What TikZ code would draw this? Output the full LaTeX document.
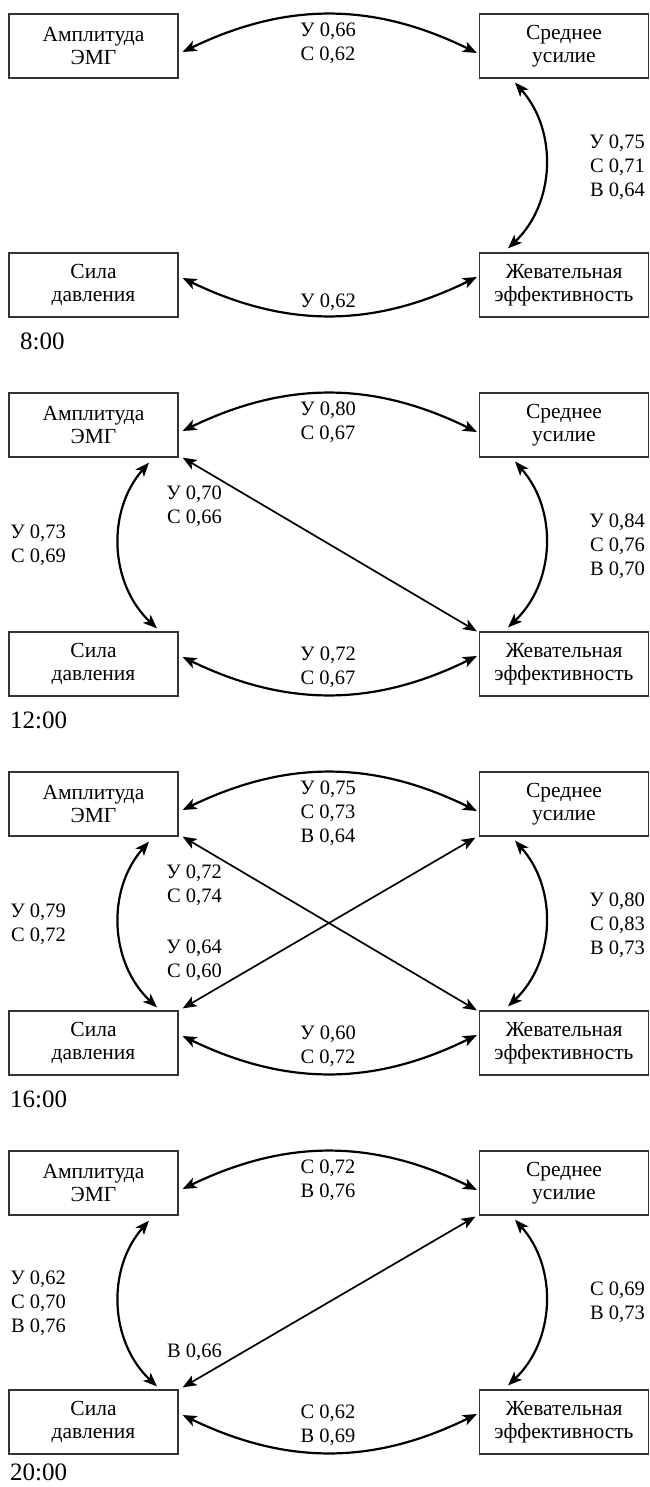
\documentclass[tikz,border=0pt]{standalone}
\usepackage{fontspec}
\setmainfont{Liberation Serif}
\usepackage{tikz}
\usetikzlibrary{positioning, arrows.meta}
\definecolor{boxgray}{HTML}{333333}

\tikzset{
    box/.style={draw=boxgray, line width=1.2pt, minimum width=169pt, minimum height=64pt,
                inner sep=0pt, align=center, font=\fontsize{21.5}{23.5}\selectfont},
    link/.style={line width=2.2pt,
                 {Stealth[length=14pt,width=11pt,inset=3.5pt]}-{Stealth[length=14pt,width=11pt,inset=3.5pt]}},
    diag/.style={link, line width=1.7pt},
    lbl/.style={inner sep=0pt, font=\fontsize{20.5}{24}\selectfont},
    timelbl/.style={inner sep=0pt, anchor=west, font=\fontsize{25}{28}\selectfont}
}

\begin{document}
\begin{tikzpicture}[x=1pt, y=-1pt]
    \useasboundingbox (0,0) rectangle (649,1487);

    % four panels of boxes
    \foreach \i/\tx/\ty/\t in {0/20/327/8:00, 1/10/327/12:00, 2/10/327/16:00, 3/10/321/20:00}{
      \pgfmathsetmacro{\P}{14+379*\i}
      \node[box] (amp\i)  at (93.5, {\P+32})  {Амплитуда\\ЭМГ};
      \node[box] (sred\i) at (564,  {\P+32})  {Среднее\\усилие};
      \node[box] (sila\i) at (93.5, {\P+271}) {Сила\\давления};
      \node[box] (zhev\i) at (564,  {\P+271}) {Жевательная\\эффективность};
      \node[timelbl] (time\i) at (\tx, {\P+\ty}) {\t};
    }

    % 8:00
    \draw[link] ([xshift=4pt,yshift=-6pt]amp0.east) to[bend left=26] ([xshift=-2pt,yshift=-7pt]sred0.west);
    \draw[link] ([xshift=-49pt,yshift=-4pt]sred0.south) to[bend left=44] ([xshift=-56pt,yshift=4pt]zhev0.north);
    \draw[link] ([xshift=4pt,yshift=7pt]sila0.east) to[bend right=26] ([xshift=-2pt,yshift=8pt]zhev0.west);
    \begin{scope}
      \node[lbl, align=center] (t0) at (328, 43) {У 0,66\\С 0,62};
      \node[lbl, align=right, anchor=east] (r0) at (645, 167) {У 0,75\\С 0,71\\В 0,64};
      \node[lbl, align=center] (b0) at (328, 302) {У 0,62};
    \end{scope}

    % 12:00
    \draw[link] ([xshift=4pt,yshift=-6pt]amp1.east) to[bend left=26] ([xshift=-2pt,yshift=-7pt]sred1.west);
    \draw[link] ([xshift=-49pt,yshift=-4pt]sred1.south) to[bend left=44] ([xshift=-56pt,yshift=4pt]zhev1.north);
    \draw[link] ([xshift=4pt,yshift=7pt]sila1.east) to[bend right=26] ([xshift=-2pt,yshift=8pt]zhev1.west);
    \draw[link] ([xshift=55.5pt,yshift=-5pt]amp1.south) to[bend right=44] ([xshift=63.5pt,yshift=3pt]sila1.north);
    \draw[diag] ([xshift=4pt]amp1.south east) -- ([xshift=-2pt]zhev1.north west);
    \begin{scope}[shift={(0,379)}]
      \node[lbl, align=center] (t1) at (328, 43) {У 0,80\\С 0,67};
      \node[lbl, align=right, anchor=east] (r1) at (645, 167) {У 0,84\\С 0,76\\В 0,70};
      \node[lbl, align=center] (b1) at (328, 288.5) {У 0,72\\С 0,67};
      \node[lbl, align=right, anchor=east] (l1) at (66, 166) {У 0,73\\С 0,69};
      \node[lbl, align=right, anchor=east] (d1) at (222, 127) {У 0,70\\С 0,66};
    \end{scope}

    % 16:00
    \draw[link] ([xshift=4pt,yshift=-6pt]amp2.east) to[bend left=26] ([xshift=-2pt,yshift=-7pt]sred2.west);
    \draw[link] ([xshift=-49pt,yshift=-4pt]sred2.south) to[bend left=44] ([xshift=-56pt,yshift=4pt]zhev2.north);
    \draw[link] ([xshift=4pt,yshift=7pt]sila2.east) to[bend right=26] ([xshift=-2pt,yshift=8pt]zhev2.west);
    \draw[link] ([xshift=55.5pt,yshift=-5pt]amp2.south) to[bend right=44] ([xshift=63.5pt,yshift=3pt]sila2.north);
    \draw[diag] ([xshift=4pt]amp2.south east) -- ([xshift=-2pt]zhev2.north west);
    \draw[diag] ([xshift=4pt,yshift=2pt]sila2.north east) -- ([xshift=-3.5pt,yshift=-1pt]sred2.south west);
    \begin{scope}[shift={(0,758)}]
      \node[lbl, align=center] (t2) at (328, 55) {У 0,75\\С 0,73\\В 0,64};
      \node[lbl, align=right, anchor=east] (r2) at (645, 167) {У 0,80\\С 0,83\\В 0,73};
      \node[lbl, align=center] (b2) at (328, 288.5) {У 0,60\\С 0,72};
      \node[lbl, align=right, anchor=east] (l2) at (66, 166) {У 0,79\\С 0,72};
      \node[lbl, align=right, anchor=east] (d2a) at (222, 127) {У 0,72\\С 0,74};
      \node[lbl, align=right, anchor=east] (d2b) at (222, 202) {У 0,64\\С 0,60};
    \end{scope}

    % 20:00
    \draw[link] ([xshift=4pt,yshift=-6pt]amp3.east) to[bend left=26] ([xshift=-2pt,yshift=-7pt]sred3.west);
    \draw[link] ([xshift=-49pt,yshift=-4pt]sred3.south) to[bend left=44] ([xshift=-56pt,yshift=4pt]zhev3.north);
    \draw[link] ([xshift=4pt,yshift=7pt]sila3.east) to[bend right=26] ([xshift=-2pt,yshift=8pt]zhev3.west);
    \draw[link] ([xshift=55.5pt,yshift=-5pt]amp3.south) to[bend right=44] ([xshift=63.5pt,yshift=3pt]sila3.north);
    \draw[diag] ([xshift=4pt,yshift=2pt]sila3.north east) -- ([xshift=-3.5pt,yshift=-1pt]sred3.south west);
    \begin{scope}[shift={(0,1137)}]
      \node[lbl, align=center] (t3) at (328, 43) {С 0,72\\В 0,76};
      \node[lbl, align=right, anchor=east] (r3) at (645, 165) {С 0,69\\В 0,73};
      \node[lbl, align=center] (b3) at (328, 288.5) {С 0,62\\В 0,69};
      \node[lbl, align=right, anchor=east] (l3) at (66, 166) {У 0,62\\С 0,70\\В 0,76};
      \node[lbl, align=right, anchor=east] (d3) at (222, 215) {В 0,66};
    \end{scope}
\end{tikzpicture}
\end{document}
